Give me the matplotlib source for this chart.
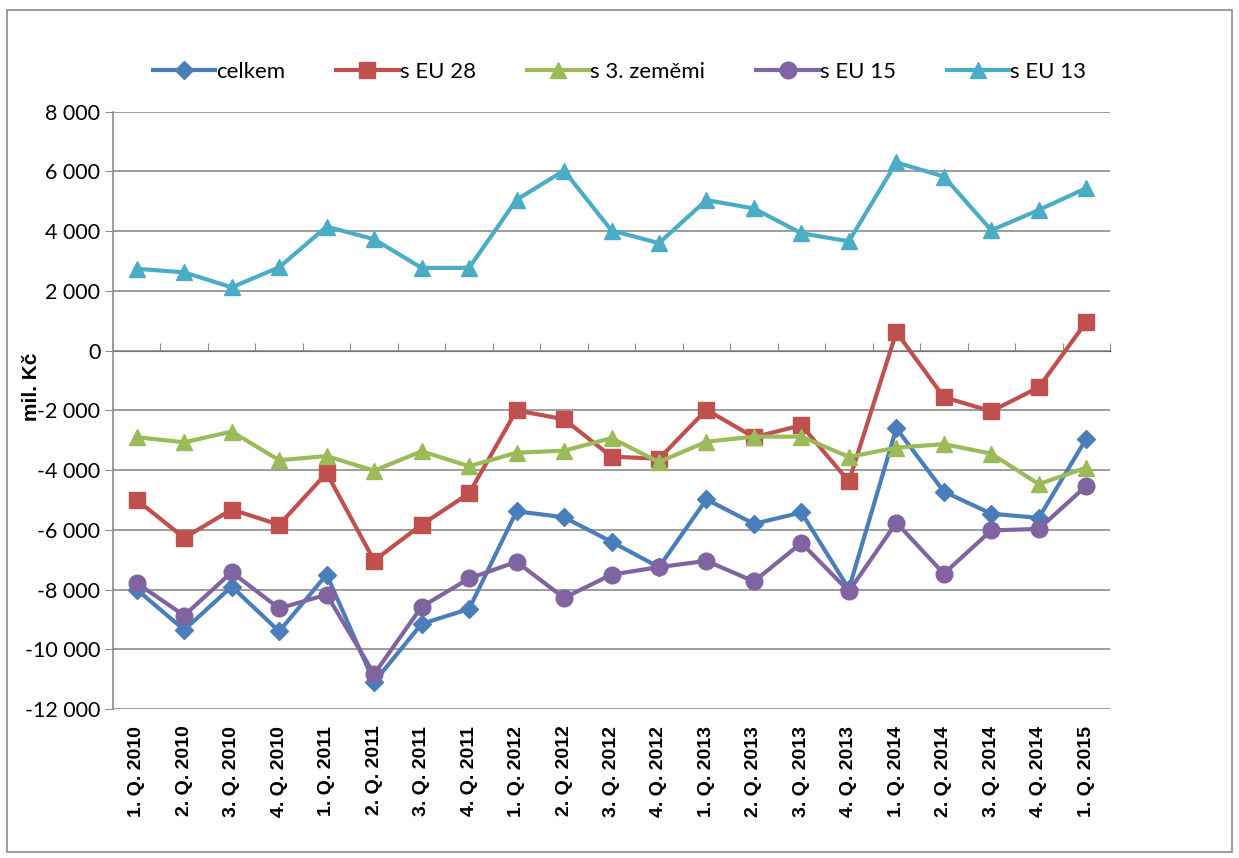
import numpy as np
import matplotlib
matplotlib.use('Agg')
from matplotlib import pyplot as plt
from matplotlib.patches import Rectangle
from matplotlib.ticker import FuncFormatter, FixedLocator

# data to plot
quarters = ['1. Q. 2010', '2. Q. 2010', '3. Q. 2010', '4. Q. 2010',
            '1. Q. 2011', '2. Q. 2011', '3. Q. 2011', '4. Q. 2011',
            '1. Q. 2012', '2. Q. 2012', '3. Q. 2012', '4. Q. 2012',
            '1. Q. 2013', '2. Q. 2013', '3. Q. 2013', '4. Q. 2013',
            '1. Q. 2014', '2. Q. 2014', '3. Q. 2014', '4. Q. 2014',
            '1. Q. 2015']
celkem = [-8000, -9350, -7900, -9400, -7500, -11100, -9150, -8650, -5380, -5580,
          -6400, -7250, -4980, -5800, -5420, -7980, -2600, -4720, -5460, -5600, -2950]
eu28 = [-5000, -6270, -5320, -5830, -4100, -7030, -5830, -4780, -2000, -2300,
        -3550, -3620, -1980, -2900, -2500, -4380, 620, -1560, -2030, -1230, 960]
treti = [-2900, -3070, -2710, -3670, -3530, -4020, -3370, -3870, -3420, -3350,
         -2930, -3730, -3050, -2880, -2880, -3560, -3250, -3130, -3450, -4470, -3920]
eu15 = [-7780, -8870, -7420, -8630, -8170, -10830, -8580, -7630, -7070, -8280,
        -7500, -7250, -7040, -7730, -6440, -8060, -5760, -7470, -6020, -5970, -4530]
eu13 = [2740, 2620, 2120, 2790, 4150, 3730, 2770, 2770, 5050, 6030,
        4020, 3600, 5040, 4760, 3930, 3660, 6300, 5830, 4030, 4710, 5440]

series = [
    ('celkem', celkem, '#4A7EBB', 'D', 9.5),
    ('s EU 28', eu28, '#C0504D', 's', 11),
    ('s 3. zeměmi', treti, '#9BBB59', '^', 12),
    ('s EU 15', eu15, '#8064A2', 'o', 12),
    ('s EU 13', eu13, '#4BACC6', '^', 12),
]

fig = plt.figure(figsize=(12.39, 8.58), dpi=100)
ax = fig.add_axes([113 / 1239, 1 - 709 / 858, 997 / 1239, (709 - 111.7) / 858])

x = np.arange(len(quarters))
for name, vals, col, mk, ms in series:
    ax.plot(x, vals, color=col, lw=3.0, marker=mk, markersize=ms,
            markerfacecolor=col, markeredgecolor=col, label=name, zorder=3)

ax.set_xlim(-0.5, len(quarters) - 0.5)
ax.set_ylim(-12000, 8000)
ax.set_yticks(np.arange(-12000, 8001, 2000))
ax.yaxis.set_major_formatter(FuncFormatter(lambda v, p: f'{int(v):,}'.replace(',', ' ')))
ax.grid(axis='y', color='#8c8c8c', lw=1.2)
ax.set_axisbelow(True)
for s in ['top', 'right', 'bottom']:
    ax.spines[s].set_visible(False)
ax.spines['left'].set_color('#8c8c8c')
ax.spines['left'].set_linewidth(1.2)
ax.tick_params(axis='y', length=6, color='#8c8c8c', labelsize=15.5, pad=3)
for lbl in ax.get_yticklabels():
    lbl.set_family('Lato')

ax.set_xticks(x)
ax.set_xticklabels(quarters, rotation=90, fontsize=14, fontweight='bold',
                   family='Liberation Sans')
ax.tick_params(axis='x', length=0, pad=12)

# category axis crossing at zero
sec = ax.secondary_xaxis(12 / 20)
sec.xaxis.set_major_locator(FixedLocator(np.arange(-0.5, len(quarters), 1)))
sec.set_xticklabels([])
sec.tick_params(axis='x', length=6, color='#8c8c8c', direction='out')
sec.spines['bottom'].set_visible(False)

ax.set_ylabel('mil. Kč', fontsize=15, fontweight='bold', family='Liberation Sans')
ax.yaxis.set_label_coords(-0.072, 0.54)

fig.legend(loc='center', bbox_to_anchor=(0.5, 1 - 72 / 858), ncol=5, frameon=False,
           handlelength=2.8, handletextpad=0.05, columnspacing=2.3,
           prop={'family': 'Lato', 'size': 16})

fig.patches.append(Rectangle((7 / 1239, 1 - 852 / 858), 1225 / 1239, 842 / 858,
                             transform=fig.transFigure, fill=False,
                             edgecolor='#8c8c8c', lw=1.2))

plt.savefig('out.png', dpi=100)
